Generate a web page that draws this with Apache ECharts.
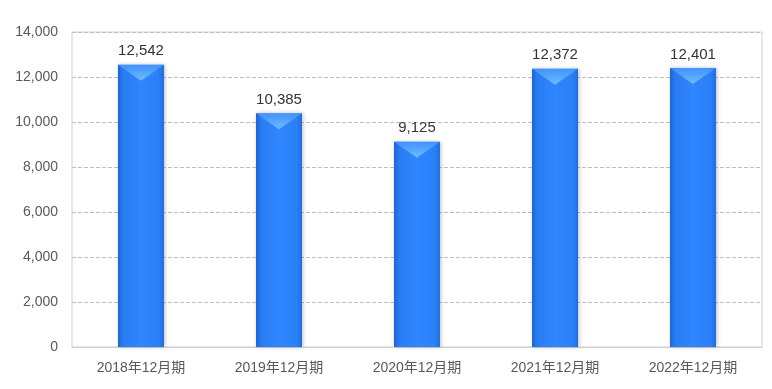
<!DOCTYPE html>
<html><head><meta charset="utf-8">
<script src="https://cdn.jsdelivr.net/npm/echarts@6/dist/echarts.min.js"></script>
<style>html,body{margin:0;padding:0;background:#fff}#c{width:772px;height:389px}</style>
</head><body><div id="c"></div>
<script>
const categories = ['2018年12月期','2019年12月期','2020年12月期','2021年12月期','2022年12月期'];
const values = [12542, 10385, 9125, 12372, 12401];
const yMin = 0, yMax = 14000, yStep = 2000;

const font = '"Liberation Sans","Noto Sans CJK JP",sans-serif';
const chart = echarts.init(document.getElementById('c'));
chart.setOption({
  animation: false,
  grid: {left: 72, right: 10, top: 32, bottom: 42, show: true, borderColor: '#d0d0d0', borderWidth: 1},
  xAxis: {
    type: 'category', data: categories,
    axisLine: {show: true, lineStyle: {color: '#d0d0d0'}},
    axisTick: {show: false},
    axisLabel: {color: '#595959', fontSize: 14, fontFamily: font, margin: 14}
  },
  yAxis: {
    type: 'value', min: yMin, max: yMax, interval: yStep,
    axisLine: {show: false}, axisTick: {show: false},
    splitLine: {lineStyle: {color: '#bfbfbf', type: [4, 2]}},
    axisLabel: {color: '#595959', fontSize: 14, fontFamily: font, margin: 14,
      formatter: v => v.toLocaleString('en-US')}
  },
  series: [{
    type: 'bar', data: values, barWidth: 46,
    itemStyle: {
      color: new echarts.graphic.LinearGradient(0, 0, 1, 0, [
        {offset: 0, color: '#1c66d6'},
        {offset: 0.12, color: '#2a7cf2'},
        {offset: 0.5, color: '#2f86ff'},
        {offset: 0.88, color: '#2b80f8'},
        {offset: 1, color: '#1e6ee0'}
      ]),
      shadowColor: 'rgba(0,0,0,0.25)', shadowBlur: 4, shadowOffsetX: 1, shadowOffsetY: 0
    },
    label: {show: true, position: 'top', distance: 6, color: '#333', fontSize: 15, fontFamily: font,
      formatter: p => p.value.toLocaleString('en-US')}
  }, {
    type: 'pictorialBar', data: values, symbol: 'triangle', symbolRotate: 180,
    symbolSize: [46, 16], symbolPosition: 'end', symbolOffset: [0, 0], z: 3,
    itemStyle: {color: new echarts.graphic.LinearGradient(0, 0, 0, 1, [
      {offset: 0, color: 'rgba(120,195,255,0.9)'},
      {offset: 1, color: 'rgba(80,160,255,0.6)'}
    ])},
    silent: true
  }]
});
</script></body></html>
